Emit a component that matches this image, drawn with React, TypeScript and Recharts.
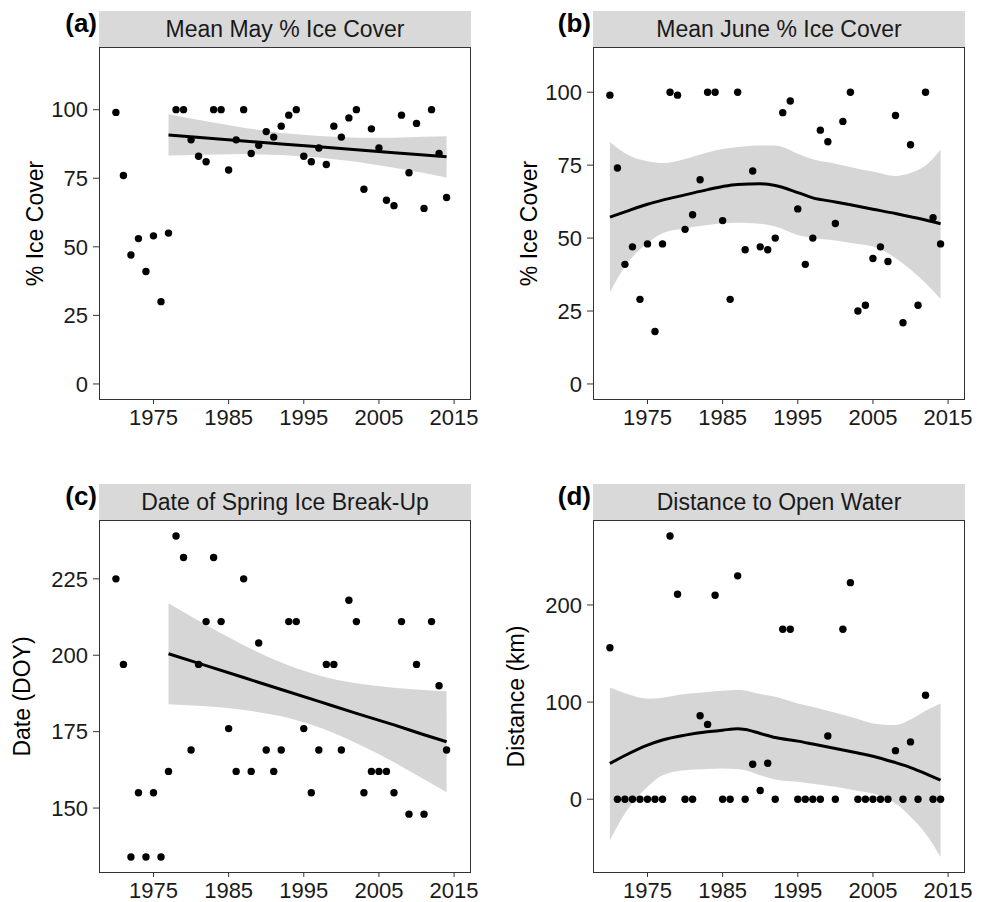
import { ComposedChart, Scatter, Area, Line, XAxis, YAxis } from 'recharts';

const FONT = '"Liberation Sans", Arial, Helvetica, sans-serif';

// observation years
const years = [
  1970, 1971, 1972, 1973, 1974, 1975, 1976, 1977, 1978, 1979,
  1980, 1981, 1982, 1983, 1984, 1985, 1986, 1987, 1988, 1989,
  1990, 1991, 1992, 1993, 1994, 1995, 1996, 1997, 1998, 1999,
  2000, 2001, 2002, 2003, 2004, 2005, 2006, 2007, 2008, 2009,
  2010, 2011, 2012, 2013, 2014,
];

// (a) mean May % ice cover
const mayCover = [
  99, 76, 47, 53, 41, 54, 30, 55, 100, 100,
  89, 83, 81, 100, 100, 78, 89, 100, 84, 87,
  92, 90, 94, 98, 100, 83, 81, 86, 80, 94,
  90, 97, 100, 71, 93, 86, 67, 65, 98, 77,
  95, 64, 100, 84, 68,
];

// (b) mean June % ice cover
const juneCover = [
  99, 74, 41, 47, 29, 48, 18, 48, 100, 99,
  53, 58, 70, 100, 100, 56, 29, 100, 46, 73,
  47, 46, 50, 93, 97, 60, 41, 50, 87, 83,
  55, 90, 100, 25, 27, 43, 47, 42, 92, 21,
  82, 27, 100, 57, 48,
];

// (c) break-up day of year
const breakupDoy = [
  225, 197, 134, 155, 134, 155, 134, 162, 239, 232,
  169, 197, 211, 232, 211, 176, 162, 225, 162, 204,
  169, 162, 169, 211, 211, 176, 155, 169, 197, 197,
  169, 218, 211, 155, 162, 162, 162, 155, 211, 148,
  197, 148, 211, 190, 169,
];

// (d) distance to open water, km
const openWaterKm = [
  156, 0, 0, 0, 0, 0, 0, 0, 271, 211,
  0, 0, 86, 77, 210, 0, 0, 230, 0, 36,
  9, 37, 0, 175, 175, 0, 0, 0, 0, 65,
  0, 175, 223, 0, 0, 0, 0, 0, 50, 0,
  59, 0, 107, 0, 0,
];

// fitted trends and 95% bands
const fitYearsA = [1977, 1982, 1987, 1992, 1997, 2002, 2007, 2011, 2014];
const fitA = [90.8, 89.7, 88.6, 87.5, 86.5, 85.4, 84.3, 83.5, 82.8];
const loA = [83.3, 83.6, 83.8, 83.5, 82.6, 81.0, 78.8, 76.9, 75.3];
const hiA = [98.3, 95.8, 93.4, 91.5, 90.4, 89.8, 89.8, 90.1, 90.3];

const fitYearsB = [1970, 1972, 1975, 1977, 1980, 1983, 1985, 1987, 1990, 1992, 1995, 1997, 2000, 2003, 2005, 2008, 2010, 2012, 2014];
const fitB = [57.2, 59.0, 61.6, 63.0, 64.8, 66.6, 67.7, 68.4, 68.6, 68.0, 65.6, 63.8, 62.4, 60.9, 59.9, 58.4, 57.3, 56.2, 54.9];
const loB = [31.5, 40.3, 48.3, 51.7, 53.4, 54.5, 55.1, 55.3, 54.9, 54.0, 51.1, 50.0, 49.2, 48.0, 47.1, 43.2, 39.2, 34.6, 29.1];
const hiB = [82.9, 79.1, 76.3, 75.7, 77.1, 79.3, 80.5, 81.2, 81.7, 81.7, 78.9, 77.0, 75.5, 73.8, 72.8, 71.3, 72.3, 74.9, 80.3];

const fitYearsC = [1977, 1982, 1987, 1992, 1997, 2002, 2007, 2011, 2014];
const fitC = [200.5, 196.6, 192.7, 188.8, 184.9, 181.0, 177.2, 174.0, 171.7];
const loC = [184.0, 183.3, 182.1, 180.0, 176.4, 171.2, 165.0, 159.4, 155.2];
const hiC = [217.0, 209.9, 203.3, 197.6, 193.4, 190.8, 189.4, 188.6, 188.2];

const fitYearsD = [1970, 1972, 1975, 1977, 1980, 1983, 1985, 1987, 1988, 1990, 1992, 1995, 1997, 2000, 2003, 2005, 2008, 2010, 2012, 2014];
const fitD = [36.8, 45.0, 55.7, 61.0, 66.0, 69.5, 71.1, 72.5, 71.8, 67.7, 63.5, 59.8, 56.8, 52.2, 47.5, 44.3, 37.6, 32.6, 26.4, 19.6];
const loD = [-42.3, -14.8, 12.7, 24.7, 29.9, 31.0, 31.6, 31.0, 29.9, 24.7, 20.3, 17.9, 15.9, 12.7, 8.5, 5.8, -4.5, -18.2, -35.4, -59.5];
const hiD = [115, 109, 103.5, 104.5, 108.2, 110.5, 111.7, 112.4, 112.0, 108.2, 105.5, 98.6, 95.0, 89.0, 82.5, 78.0, 76.3, 82.0, 91.0, 98.6];

const xTicks = [1975, 1985, 1995, 2005, 2015];
const xDomain = [1967.75, 2017.25];

const PLOT_W = 372;
const PLOT_H = 353;
const Y_AXIS_W = 90;
const X_AXIS_H = 40;
const RIGHT_PAD = 30;

const panels = [
  {
    tag: '(a)', title: 'Mean May % Ice Cover', yLabel: '% Ice Cover',
    values: mayCover, fitYears: fitYearsA, fit: fitA, lo: loA, hi: hiA,
    domain: [-5.85, 122.85], ticks: [0, 25, 50, 75, 100], curve: 'linear',
    x: 99, y: 47, titleX: 43,
  },
  {
    tag: '(b)', title: 'Mean June % Ice Cover', yLabel: '% Ice Cover',
    values: juneCover, fitYears: fitYearsB, fit: fitB, lo: loB, hi: hiB,
    domain: [-5.5, 115.5], ticks: [0, 25, 50, 75, 100], curve: 'monotone',
    x: 593, y: 47, titleX: 537,
  },
  {
    tag: '(c)', title: 'Date of Spring Ice Break-Up', yLabel: 'Date (DOY)',
    values: breakupDoy, fitYears: fitYearsC, fit: fitC, lo: loC, hi: hiC,
    domain: [128.75, 244.25], ticks: [150, 175, 200, 225], curve: 'monotone',
    x: 99, y: 520, titleX: 29.5,
  },
  {
    tag: '(d)', title: 'Distance to Open Water', yLabel: 'Distance (km)',
    values: openWaterKm, fitYears: fitYearsD, fit: fitD, lo: loD, hi: hiD,
    domain: [-76, 287.5], ticks: [0, 100, 200], curve: 'monotone',
    x: 593, y: 520, titleX: 523.5,
  },
];

const Dot = (props: any) => <circle cx={props.cx} cy={props.cy} r={3.7} fill="#000" />;

const tickStyle = { fill: '#1a1a1a', fontSize: 22, fontFamily: FONT };

const Panel = ({ p }: { p: any }) => {
  const points = years.map((yr, i) => ({ year: yr, value: p.values[i] }));
  const fitRows = p.fitYears.map((yr: number, i: number) => ({
    year: yr,
    fit: p.fit[i],
    band: [p.lo[i], p.hi[i]],
  }));
  return (
    <div style={{ position: 'absolute', left: p.x - Y_AXIS_W, top: p.y }}>
      <ComposedChart
        width={Y_AXIS_W + PLOT_W + RIGHT_PAD}
        height={PLOT_H + X_AXIS_H}
        data={fitRows}
        margin={{ top: 0, right: RIGHT_PAD, bottom: 0, left: 0 }}
      >
        <XAxis
          dataKey="year"
          type="number"
          domain={xDomain}
          ticks={xTicks}
          allowDataOverflow
          height={X_AXIS_H}
          axisLine={false}
          tickLine={{ stroke: '#333333' }}
          tickSize={4}
          tickMargin={5}
          tick={tickStyle}
          interval={0}
        />
        <YAxis
          type="number"
          domain={p.domain}
          ticks={p.ticks}
          allowDataOverflow
          width={Y_AXIS_W}
          axisLine={false}
          tickLine={{ stroke: '#333333' }}
          tickSize={6}
          tickMargin={5}
          tick={tickStyle}
          interval={0}
        />
        <Scatter data={points} dataKey="value" shape={Dot} isAnimationActive={false} />
        <Area
          dataKey="band"
          type={p.curve}
          fill="#999999"
          fillOpacity={0.4}
          stroke="none"
          isAnimationActive={false}
        />
        <Line
          dataKey="fit"
          type={p.curve}
          stroke="#000000"
          strokeWidth={3}
          dot={false}
          activeDot={false}
          isAnimationActive={false}
        />
      </ComposedChart>
    </div>
  );
};

export default function App() {
  return (
    <div style={{ position: 'absolute', left: 0, top: 0, width: 988, height: 902, background: '#fff', fontFamily: FONT }}>
      {panels.map((p) => (
        <Panel key={p.tag} p={p} />
      ))}
      <svg width={988} height={902} style={{ position: 'absolute', left: 0, top: 0, pointerEvents: 'none' }}>
        {panels.map((p) => {
          const stripTop = p.y - 36;
          return (
            <g key={p.tag}>
              <rect x={p.x} y={stripTop} width={PLOT_W} height={36} fill="#d9d9d9" />
              <text
                x={p.x + PLOT_W / 2}
                y={stripTop + 26}
                textAnchor="middle"
                fontSize={23}
                fill="#1a1a1a"
                fontFamily={FONT}
              >
                {p.title}
              </text>
              <text x={p.x - 2} y={stripTop + 21} textAnchor="end" fontSize={26} fontWeight="bold" fill="#000" fontFamily={FONT}>
                {p.tag}
              </text>
              <rect x={p.x + 0.5} y={p.y + 0.5} width={PLOT_W - 1} height={PLOT_H - 1} fill="none" stroke="#333333" strokeWidth={1} />
              <text
                transform={`translate(${p.titleX}, ${p.y + PLOT_H / 2}) rotate(-90)`}
                textAnchor="middle"
                fontSize={23}
                fill="#000"
                fontFamily={FONT}
              >
                {p.yLabel}
              </text>
            </g>
          );
        })}
      </svg>
    </div>
  );
}
